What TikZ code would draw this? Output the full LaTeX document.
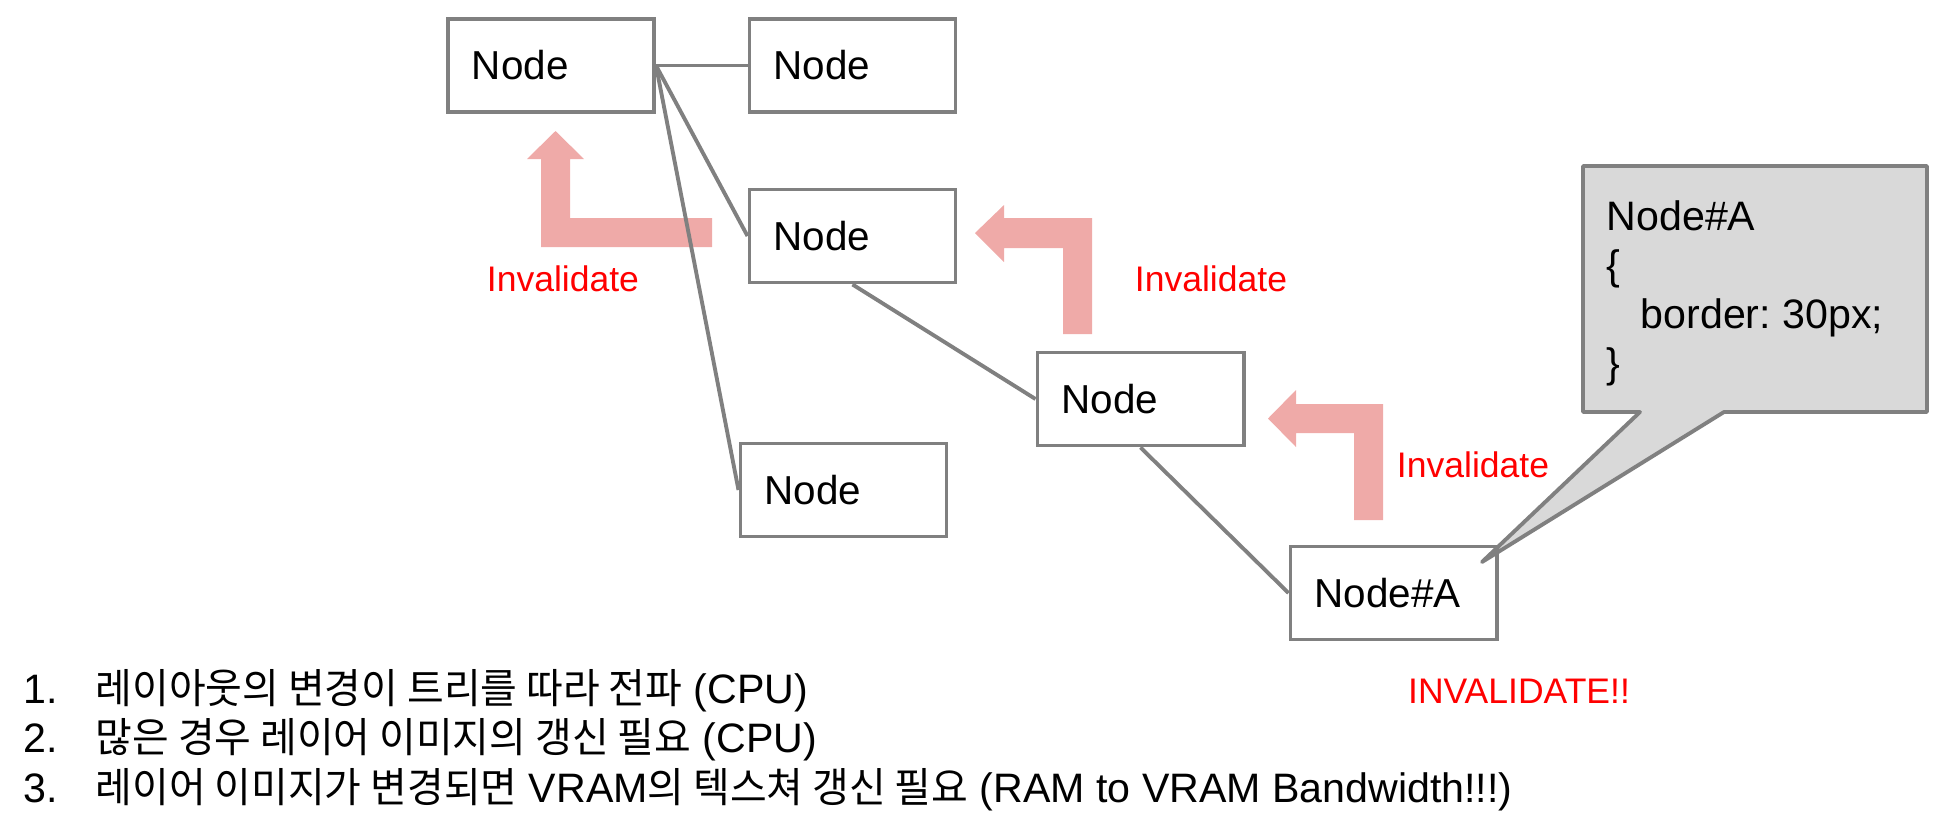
\documentclass[tikz,border=0pt]{standalone}
\usepackage{fontspec}
\setmainfont{Liberation Sans}
\newfontfamily\kofont{Noto Sans CJK KR}[FakeStretch=0.97]
\definecolor{boxgray}{RGB}{128,128,128}
\definecolor{notegray}{RGB}{217,217,217}
\definecolor{flowpink}{RGB}{239,170,168}
\definecolor{alertred}{RGB}{255,0,0}

\begin{document}
\begin{tikzpicture}[x=0.01cm, y=-0.01cm,
    treenode/.style={rectangle, draw=boxgray, line width=1.1pt, fill=white,
        text width=1.58cm, inner xsep=0.24cm, minimum height=0.93cm,
        align=left, font=\fontsize{11.5}{13}\selectfont},
    treeline/.style={draw=boxgray, line width=1.1pt},
    invlabel/.style={text=alertred, font=\fontsize{10.1}{12}\selectfont},
    listitem/.style={anchor=base west, inner sep=0pt, font=\fontsize{11.7}{14}\selectfont}]
\useasboundingbox (0,0) rectangle (1944,826);

% Invalidate arrows
\fill[flowpink] (555.5,131) -- (584,159) -- (570,159) -- (570,218) -- (712,218) -- (712,247)
    -- (541,247) -- (541,159) -- (527,159) -- cycle;
\fill[flowpink] (975,233) -- (1004,205) -- (1004,218) -- (1092,218) -- (1092,334) -- (1063,334)
    -- (1063,248) -- (1004,248) -- (1004,262) -- cycle;
\fill[flowpink] (1268,418.5) -- (1296,390) -- (1296,404) -- (1383,404) -- (1383,520) -- (1354,520)
    -- (1354,433) -- (1296,433) -- (1296,447) -- cycle;

% Tree nodes
\node[treenode] (rootnode) at (551,65.5) {Node};
\node[treenode] (rightnode) at (852.5,65.5) {Node};
\node[treenode] (midnode) at (852.5,236) {Node};
\node[treenode] (lownode) at (843.5,490) {Node};
\node[treenode] (subnode) at (1140.5,399) {Node};
\node[treenode] (nodeA) at (1393.5,593) {Node\#A};

% Connections
\draw[treeline] (rootnode.east) -- (rightnode.west);
\draw[treeline] (rootnode.east) -- (midnode.west);
\draw[treeline] (rootnode.east) -- (lownode.west);
\draw[treeline] (midnode.south) -- (subnode.west);
\draw[treeline] (subnode.south) -- (nodeA.west);

% Labels
\node[invlabel] (inv1) at (563,279) {Invalidate};
\node[invlabel] (inv2) at (1211,279) {Invalidate};
\node[invlabel] (inv3) at (1473,465) {Invalidate};
\node[invlabel] (invA) at (1519,691) {INVALIDATE!!};

% Style callout
\coordinate (calltip) at (1482,562);
\filldraw[draw=boxgray, fill=notegray, line width=1.1pt, line join=round]
    (1583,166) -- (1927,166) -- (1927,412) -- (1724,412) -- (calltip) -- (1640,412) -- (1583,412) -- cycle;
\node[anchor=north west, inner sep=0pt, align=left, font=\fontsize{11.7}{13.9}\selectfont] (css) at (1606,200)
    {Node\#A\\\{\\\hspace*{0.34cm}border:\ 30px;\\\}};

% Notes
\node[listitem] (item1) at (23,703) {\makebox[0.72cm][l]{1.}{\kofont 레이아웃의 변경이 트리를 따라 전파} (CPU)};
\node[listitem] (item2) at (23,752) {\makebox[0.72cm][l]{2.}{\kofont 많은 경우 레이어 이미지의 갱신 필요} (CPU)};
\node[listitem] (item3) at (23,802) {\makebox[0.72cm][l]{3.}{\kofont 레이어 이미지가 변경되면} VRAM{\kofont 의 텍스쳐 갱신 필요} (RAM to VRAM Bandwidth!!!)};
\end{tikzpicture}
\end{document}
